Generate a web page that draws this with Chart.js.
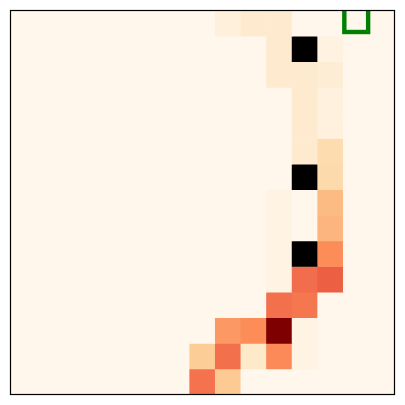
<!DOCTYPE html>
<html>
<head>
<meta charset="utf-8">
<script src="https://cdn.jsdelivr.net/npm/chart.js@4.4.1/dist/chart.umd.min.js"></script>
<style>
html,body{margin:0;padding:0;background:#fff;}
#wrap{width:405px;height:405px;}
</style>
</head>
<body>
<div id="wrap"><canvas id="c" width="405" height="405"></canvas></div>
<script>
// Grid columns / rows
const columns = [0,1,2,3,4,5,6,7,8,9,10,11,12,13,14];
const rows = [0,1,2,3,4,5,6,7,8,9,10,11,12,13,14];
// Normalised cell intensities (row-major, row 0 at top); null = obstacle
const row0  = [0,0,0,0,0,0,0,0,0.06,0.1,0.1,0,0,0,0];
const row1  = [0,0,0,0,0,0,0,0,0,0,0.1,null,0.04,0,0];
const row2  = [0,0,0,0,0,0,0,0,0,0,0.1,0.1,0.08,0,0];
const row3  = [0,0,0,0,0,0,0,0,0,0,0,0.1,0.05,0,0];
const row4  = [0,0,0,0,0,0,0,0,0,0,0,0.1,0.05,0,0];
const row5  = [0,0,0,0,0,0,0,0,0,0,0,0.1,0.2,0,0];
const row6  = [0,0,0,0,0,0,0,0,0,0,0,null,0.21,0,0];
const row7  = [0,0,0,0,0,0,0,0,0,0,0.03,0,0.375,0,0];
const row8  = [0,0,0,0,0,0,0,0,0,0,0.03,0,0.39,0,0];
const row9  = [0,0,0,0,0,0,0,0,0,0,0.03,null,0.5,0,0];
const row10 = [0,0,0,0,0,0,0,0,0,0,0.03,0.6,0.64,0,0];
const row11 = [0,0,0,0,0,0,0,0,0,0,0.59,0.57,0,0,0];
const row12 = [0,0,0,0,0,0,0,0,0.47,0.5,1.0,0.03,0,0,0];
const row13 = [0,0,0,0,0,0,0,0.285,0.59,0.12,0.51,0.03,0,0,0];
const row14 = [0,0,0,0,0,0,0,0.58,0.3,0,0,0,0,0,0];
const grid = [row0,row1,row2,row3,row4,row5,row6,row7,row8,row9,row10,row11,row12,row13,row14];
// Goal cell [row, col]
const goalCell = [0, 13];

// OrRd colormap
const orrd = ['#fff7ec','#fee8c8','#fdd49e','#fdbb84','#fc8d59','#ef6548','#d7301f','#b30000','#7f0000'];
function hex2rgb(h){return [parseInt(h.substr(1,2),16),parseInt(h.substr(3,2),16),parseInt(h.substr(5,2),16)];}
function cmap(t){
  t = Math.max(0, Math.min(1, t));
  const p = t*(orrd.length-1);
  const i = Math.min(Math.floor(p), orrd.length-2);
  const f = p - i;
  const a = hex2rgb(orrd[i]), b = hex2rgb(orrd[i+1]);
  const c = a.map((v,k)=>Math.round(v+(b[k]-v)*f));
  return 'rgb('+c.join(',')+')';
}

const datasets = rows.map((r) => ({
  label: 'row ' + r,
  data: grid[r].map(() => [r, r+1]),
  backgroundColor: grid[r].map(v => v === null ? '#000000' : cmap(v)),
  borderWidth: 0,
  barPercentage: 1,
  categoryPercentage: 1,
  grouped: false
}));

const framePlugin = {
  id: 'frame',
  afterDatasetsDraw(chart){
    const {ctx, chartArea:a, scales:{x, y}} = chart;
    // goal marker
    const cx0 = x.getPixelForValue(goalCell[1]);
    const half = (x.getPixelForValue(1) - x.getPixelForValue(0)) / 2;
    const left = cx0 - half, right = cx0 + half;
    const top = y.getPixelForValue(goalCell[0]), bottom = y.getPixelForValue(goalCell[0]+1);
    const h = bottom - top;
    ctx.save();
    ctx.beginPath();
    ctx.rect(a.left, a.top, a.right-a.left, a.bottom-a.top);
    ctx.clip();
    ctx.strokeStyle = '#008000';
    ctx.lineWidth = 4.4;
    ctx.strokeRect(left + 0.04*h, top - 0.1*h, (right-left) - 0.07*h, 0.94*h);
    ctx.restore();
    // frame
    ctx.save();
    ctx.strokeStyle = '#000';
    ctx.lineWidth = 1.2;
    ctx.strokeRect(a.left, a.top, a.right-a.left, a.bottom-a.top);
    ctx.restore();
  }
};

new Chart(document.getElementById('c'), {
  type: 'bar',
  data: { labels: columns.map(String), datasets },
  options: {
    responsive: false,
    animation: false,
    layout: { padding: { left: 10.5, top: 10.5, right: 10.5, bottom: 10.5 } },
    plugins: { legend: { display: false }, tooltip: { enabled: false } },
    scales: {
      x: { display: false, offset: true, grid: { display: false } },
      y: { display: false, min: 0, max: 15, reverse: true, grid: { display: false } }
    }
  },
  plugins: [framePlugin]
});
</script>
</body>
</html>
